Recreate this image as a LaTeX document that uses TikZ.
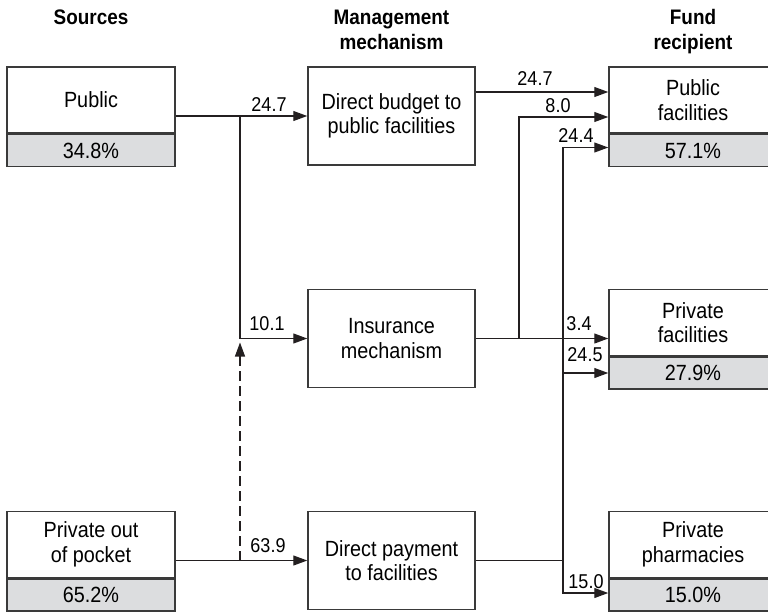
\documentclass[tikz,border=0pt]{standalone}
\usepackage{fontspec}
\setmainfont{Liberation Sans}[FakeStretch=0.9]
\usepackage{tikz}
\usetikzlibrary{arrows.meta}

\begin{document}
\begin{tikzpicture}[x=1pt,y=-1pt,
  font=\fontsize{22}{24.5}\selectfont,
  topbox/.style={draw=boxGray, line width=1.5pt, minimum width=168, minimum height=66, align=center, inner sep=0pt},
  pctbox/.style={draw=boxGray, fill=pctGray, line width=1.5pt, minimum width=168, minimum height=32, inner sep=0pt, anchor=north},
  midbox/.style={draw=boxGray, line width=1.5pt, minimum width=167, minimum height=98, align=center, inner sep=0pt},
  head/.style={font=\fontsize{21}{25}\selectfont\bfseries, align=center, anchor=base},
  lbl/.style={font=\fontsize{20}{24}\selectfont, anchor=base, inner sep=0pt},
  line/.style={draw=lineBlack, line width=1.2pt},
  flow/.style={line, -{Triangle[length=14pt,width=10pt]}}]

% Colori
\definecolor{boxGray}{HTML}{3A3A3A}
\definecolor{pctGray}{HTML}{DCDDDF}
\definecolor{lineBlack}{HTML}{231F20}

% Area della figura
\clip (0,0) rectangle (768,611);

% Intestazioni
\node[head] (hsrc) at (91,24) {Sources};
\node[head] (hmgt) at (391.5,49) {Management\\mechanism};
\node[head] (hrec) at (693,49) {Fund\\recipient};

% Fonti
\node[topbox] (pub) at (91,100) {Public};
\node[pctbox] (pubpct) at (pub.south) {34.8\%};
\node[topbox] (oop) at (91,544.5) {Private out\\of pocket};
\node[pctbox] (ooppct) at (oop.south) {65.2\%};

% Meccanismi
\node[midbox] (budget) at (391.5,116) {Direct budget to\\public facilities};
\node[midbox] (insur) at (391.5,338.5) {Insurance\\mechanism};
\node[midbox] (pay) at (391.5,560.5) {Direct payment\\to facilities};

% Destinatari
\node[topbox] (pubfac) at (693,100) {Public\\facilities};
\node[pctbox] (pubfacpct) at (pubfac.south) {57.1\%};
\node[topbox] (privfac) at (693,322.5) {Private\\facilities};
\node[pctbox] (privfacpct) at (privfac.south) {27.9\%};
\node[topbox] (pharm) at (693,544.5) {Private\\pharmacies};
\node[pctbox] (pharmpct) at (pharm.south) {15.0\%};

% Punti di snodo
\coordinate (jpub) at (240,116);
\coordinate (joop) at (240,560.5);
\coordinate (bout) at (475.5,92);
\coordinate (jins) at (519,338.5);
\coordinate (jpay) at (563,560.5);

% Flussi dalle fonti
\draw[flow] (pub.east |- budget.west) -- (budget.west);
\draw[flow] (jpub) |- (insur.west);
\draw[flow] (oop.east |- pay.west) -- (pay.west);
\draw[flow, dashed, dash pattern=on 10pt off 5pt] (joop) -- ([yshift=-4pt]jpub |- insur.west);

% Flussi verso i destinatari
\draw[flow] (bout) -- (bout -| pubfac.west);
\draw[flow] (insur.east) -- (insur.east -| privfac.west);
\draw[flow] (jins) |- (pubfac.west |- 0,117);
\draw[line] (pay.east) -- (jpay);
\draw[flow] (jpay) |- (pubfac.west |- 0,147.5);
\draw[flow] (jpay) |- (privfac.west |- 0,373);
\draw[flow] (jpay) |- (pharm.west |- 0,593);

% Valori
\node[lbl] (v247a) at (269,111) {24.7};
\node[lbl] (v101) at (267,330) {10.1};
\node[lbl] (v639) at (268,552) {63.9};
\node[lbl] (v247b) at (535,85) {24.7};
\node[lbl] (v80) at (558,112) {8.0};
\node[lbl] (v244) at (576,142) {24.4};
\node[lbl] (v34) at (579,330) {3.4};
\node[lbl] (v245) at (585,361) {24.5};
\node[lbl] (v150) at (586,588) {15.0};

\end{tikzpicture}
\end{document}
